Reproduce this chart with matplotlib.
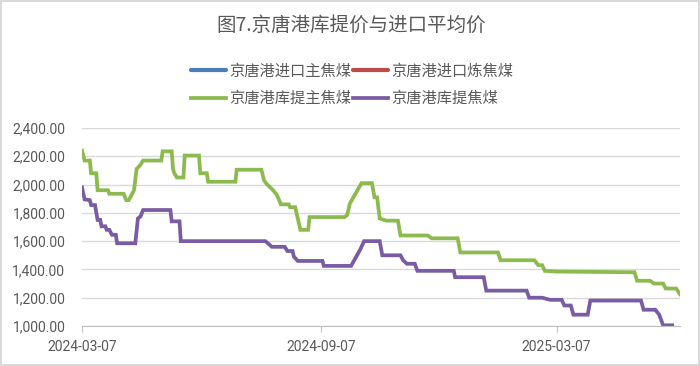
import pandas as pd
import matplotlib
matplotlib.use('Agg')
import matplotlib.pyplot as plt
import matplotlib.dates as mdates
from matplotlib.ticker import FuncFormatter

plt.rcParams['font.family'] = ['Noto Sans CJK SC', 'DejaVu Sans']

title = '图7.京唐港库提价与进口平均价'
names = ['京唐港进口主焦煤', '京唐港进口炼焦煤', '京唐港库提主焦煤', '京唐港库提焦煤']
colors = ['#4A7EBB', '#BE4B48', '#8CBA4E', '#7A5CA4']

# 京唐港库提主焦煤 (breakpoints)
green_dates = ['2024-03-07', '2024-03-09', '2024-03-13', '2024-03-14', '2024-03-18', '2024-03-19',
               '2024-03-27', '2024-03-28', '2024-04-08', '2024-04-10', '2024-04-12', '2024-04-16',
               '2024-04-18', '2024-04-21', '2024-04-23', '2024-05-07', '2024-05-08', '2024-05-15',
               '2024-05-16', '2024-05-17', '2024-05-19', '2024-05-24', '2024-05-25', '2024-06-05',
               '2024-06-06', '2024-06-11', '2024-06-12', '2024-07-03', '2024-07-04', '2024-07-23',
               '2024-07-25', '2024-07-27', '2024-08-01', '2024-08-04', '2024-08-07', '2024-08-13',
               '2024-08-14', '2024-08-18', '2024-08-22', '2024-08-28', '2024-08-29', '2024-09-25',
               '2024-09-27', '2024-09-29', '2024-10-08', '2024-10-16', '2024-10-18', '2024-10-20',
               '2024-10-22', '2024-10-27', '2024-11-05', '2024-11-07', '2024-11-28', '2024-12-01',
               '2024-12-21', '2024-12-23', '2025-01-21', '2025-01-23', '2025-02-18', '2025-02-21',
               '2025-02-24', '2025-02-26', '2025-03-07', '2025-05-06', '2025-05-08', '2025-05-18',
               '2025-05-21', '2025-05-28', '2025-05-30', '2025-06-07', '2025-06-10']
green_vals = [2240, 2170, 2170, 2080, 2080, 1960,
              1960, 1935, 1935, 1890, 1890, 1960,
              2110, 2140, 2170, 2170, 2235, 2235,
              2110, 2080, 2050, 2050, 2205, 2205,
              2080, 2080, 2020, 2020, 2105, 2105,
              2030, 2005, 1960, 1925, 1860, 1860,
              1840, 1840, 1680, 1680, 1770, 1770,
              1785, 1865, 2010, 2010, 1910, 1910,
              1760, 1745, 1745, 1640, 1640, 1620,
              1620, 1520, 1520, 1465, 1465, 1430,
              1430, 1390, 1385, 1380, 1320, 1320,
              1300, 1300, 1265, 1265, 1225]

# 京唐港库提焦煤
purple_dates = ['2024-03-07', '2024-03-09', '2024-03-13', '2024-03-14', '2024-03-17', '2024-03-19',
                '2024-03-21', '2024-03-22', '2024-03-25', '2024-03-26', '2024-03-28', '2024-03-30',
                '2024-04-02', '2024-04-03', '2024-04-17', '2024-04-19', '2024-04-21', '2024-04-23',
                '2024-05-14', '2024-05-15', '2024-05-21', '2024-05-22', '2024-07-26', '2024-07-28',
                '2024-07-31', '2024-08-10', '2024-08-12', '2024-08-16', '2024-08-17', '2024-08-20',
                '2024-09-08', '2024-09-09', '2024-09-30', '2024-10-07', '2024-10-10', '2024-10-22',
                '2024-10-24', '2024-11-07', '2024-11-09', '2024-11-12', '2024-11-18', '2024-11-20',
                '2024-12-18', '2024-12-19', '2025-01-10', '2025-01-12', '2025-02-12', '2025-02-14',
                '2025-02-24', '2025-03-02', '2025-03-11', '2025-03-13', '2025-03-18', '2025-03-20',
                '2025-03-31', '2025-04-02', '2025-05-11', '2025-05-13', '2025-05-22', '2025-05-25',
                '2025-05-28', '2025-06-04']
purple_vals = [1980, 1895, 1890, 1855, 1855, 1750,
               1750, 1705, 1705, 1680, 1680, 1645,
               1645, 1585, 1585, 1760, 1775, 1820,
               1820, 1740, 1740, 1600, 1600, 1585,
               1560, 1560, 1530, 1530, 1490, 1460,
               1460, 1425, 1425, 1540, 1600, 1600,
               1500, 1500, 1465, 1440, 1440, 1390,
               1390, 1345, 1345, 1250, 1250, 1200,
               1200, 1185, 1185, 1145, 1145, 1080,
               1080, 1180, 1180, 1115, 1115, 1080,
               1005, 1005]

tick_dates = ['2024-03-07', '2024-09-07', '2025-03-07']

fig = plt.figure(figsize=(7, 3.66), dpi=100, edgecolor='#D9D9D9', linewidth=1.5)
ax = fig.add_axes([82/700, 40/366, 598/700, 198/366])

# empty series (only shown in legend)
h_blue, = ax.plot([], [], color=colors[0], lw=3, solid_capstyle='round')
h_red, = ax.plot([], [], color=colors[1], lw=3, solid_capstyle='round')
h_green, = ax.plot(pd.to_datetime(green_dates), green_vals, color=colors[2], lw=2.7,
                   solid_joinstyle='miter')
h_purple, = ax.plot(pd.to_datetime(purple_dates), purple_vals, color=colors[3], lw=2.7,
                    solid_joinstyle='miter')

ax.set_ylim(1000, 2400)
ax.set_yticks(range(1000, 2401, 200))
ax.yaxis.set_major_formatter(FuncFormatter(lambda v, p: f'{v:,.2f}'))
ax.set_xlim(pd.Timestamp('2024-03-07'), pd.Timestamp('2025-06-10'))
ax.set_xticks(pd.to_datetime(tick_dates))
ax.xaxis.set_major_formatter(mdates.DateFormatter('%Y-%m-%d'))

ax.grid(axis='y', color='#D9D9D9', lw=1)
ax.set_axisbelow(True)
for s in ['top', 'right', 'left']:
    ax.spines[s].set_visible(False)
ax.spines['bottom'].set_color('#BFBFBF')
ax.tick_params(axis='y', length=0, pad=12, labelsize=10, labelcolor='#595959')
ax.tick_params(axis='x', length=4, color='#BFBFBF', pad=6, labelsize=10, labelcolor='#595959')
for lab in ax.get_xticklabels() + ax.get_yticklabels():
    lab.set_fontfamily('Roboto')

fig.text(0.502, 0.93, title, ha='center', va='center', fontsize=14, color='#595959')

fig.legend([h_blue, h_green, h_red, h_purple],
           [names[0], names[2], names[1], names[3]],
           ncol=2, loc='center', bbox_to_anchor=(0.503, 0.768), frameon=False,
           fontsize=11, labelcolor='#595959', handlelength=2.3, handletextpad=0.2,
           columnspacing=0.15, labelspacing=0.7)

fig.savefig('out.png', dpi=100, edgecolor=fig.get_edgecolor())
